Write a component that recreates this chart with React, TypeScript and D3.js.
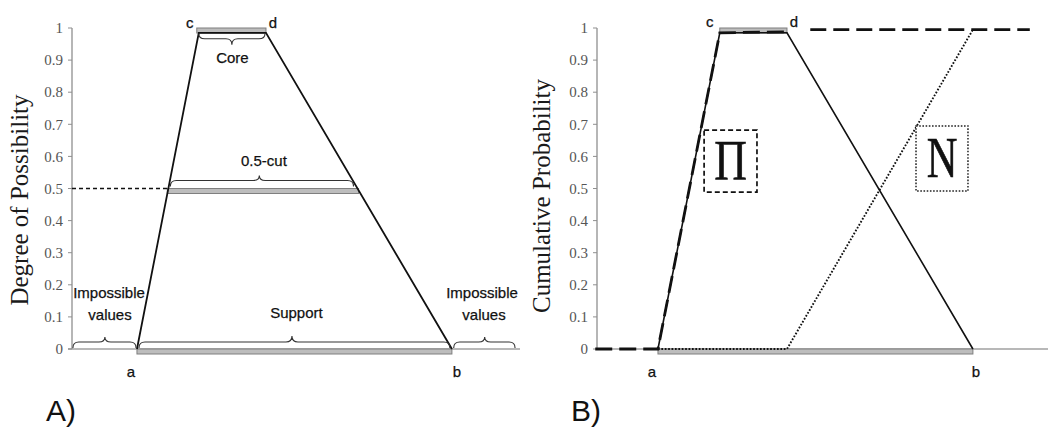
import React from "react";
import * as d3 from "d3";

// ---------- data ----------
const pointNames = ["a", "c", "d", "b"];
const pointX = [14.5, 28.3, 43.3, 84.8];
const possibilityY = [0, 0.985, 0.985, 0];
const alphaCut = 0.5;
const yTicks = [0, 0.1, 0.2, 0.3, 0.4, 0.5, 0.6, 0.7, 0.8, 0.9, 1];
const yTickLabels = ["0", "0.1", "0.2", "0.3", "0.4", "0.5", "0.6", "0.7", "0.8", "0.9", "1"];
const impossibleLeftX = [0.2, 14.3];
const impossibleRightX = [85.2, 98.9];
// panel B
const piLowerX = [0.5, 14.5];
const piUpperX = [48.5, 97.5];
const piUpperY = 0.995;
const necessityX = [14.5, 43.3, 84.8];
const necessityY = [0, 0, 0.995];
const piBoxX = [24.8, 36.6];
const piBoxY = [0.489, 0.682];
const nBoxX = [72.1, 83.7];
const nBoxY = [0.492, 0.695];

const W = 1048;
const H = 432;
const SANS = "Liberation Sans, Arial, sans-serif";
const SERIF = "Liberation Serif, Times New Roman, serif";

const yScale = d3.scaleLinear().domain([0, 1]).range([349, 28]);
const xA = d3.scaleLinear().domain([0, 100]).range([72, 520]);
const xB = d3.scaleLinear().domain([0, 100]).range([593, 1041]);

function brace(x1: number, x2: number, y0: number, dir: number, h1: number, h2: number, tipX?: number) {
  const m = tipX ?? (x1 + x2) / 2;
  const yb = y0 + dir * h1;
  const yt = yb + dir * h2;
  const r = Math.min(6, (x2 - x1) / 6);
  const p = d3.path();
  p.moveTo(x1, y0);
  p.quadraticCurveTo(x1, yb, x1 + r, yb);
  p.lineTo(m - r, yb);
  p.quadraticCurveTo(m, yb, m, yt);
  p.quadraticCurveTo(m, yb, m + r, yb);
  p.lineTo(x2 - r, yb);
  p.quadraticCurveTo(x2, yb, x2, y0);
  return p.toString();
}

const line = d3.line<[number, number]>();

function YAxis({ x0, title, titleX, titleY }: { x0: number; title: string; titleX: number; titleY: number }) {
  return (
    <g>
      <line x1={x0} x2={x0} y1={yScale(1)} y2={yScale(0)} stroke="#8f8f8f" strokeWidth={1.3} />
      {yTicks.map((t, i) => (
        <g key={i}>
          <line x1={x0 - 4} x2={x0} y1={yScale(t)} y2={yScale(t)} stroke="#8f8f8f" strokeWidth={1} />
          <text x={x0 - 9} y={yScale(t)} dy="0.35em" textAnchor="end" fontFamily={SERIF} fontSize={15} fill="#555">
            {yTickLabels[i]}
          </text>
        </g>
      ))}
      <text
        transform={`translate(${titleX},${titleY}) rotate(-90)`}
        textAnchor="middle"
        fontFamily={SERIF}
        fontSize={25}
        fill="#1a1a1a"
      >
        {title}
      </text>
    </g>
  );
}

function Bar({ x1, x2, yTop }: { x1: number; x2: number; yTop: number }) {
  return <rect x={x1} y={yTop} width={x2 - x1} height={5} fill="#bdbdbd" stroke="#7f7f7f" strokeWidth={1} />;
}

function PanelA() {
  const x = xA;
  const pts: [number, number][] = pointX.map((v, i) => [x(v), yScale(possibilityY[i])]);
  const [xa, xc, xd, xb] = pointX;
  const peak = possibilityY[1];
  const cutL = xa + (alphaCut / peak) * (xc - xa);
  const cutR = xb - (alphaCut / peak) * (xb - xd);
  const y0 = yScale(0);
  return (
    <g>
      <line x1={x(0) - 4} x2={x(100)} y1={y0} y2={y0} stroke="#a0a0a0" strokeWidth={1.3} />
      <YAxis x0={x(0)} title="Degree of Possibility" titleX={28} titleY={200} />
      {/* bars */}
      <Bar x1={x(xc) - 2} x2={x(xd)} yTop={yScale(1)} />
      <Bar x1={x(cutL) - 1} x2={x(cutR) + 1} yTop={yScale(alphaCut)} />
      <Bar x1={x(xa)} x2={x(xb)} yTop={y0} />
      {/* dashed alpha line */}
      <line x1={x(0)} x2={x(cutL)} y1={yScale(alphaCut)} y2={yScale(alphaCut)} stroke="#111" strokeWidth={1.3} strokeDasharray="4,3" />
      {/* membership */}
      <path d={line(pts) ?? ""} fill="none" stroke="#111" strokeWidth={1.8} />
      {/* braces */}
      <g fill="none" stroke="#333" strokeWidth={1.1}>
        <path d={brace(x(xc), x(xd) - 1, yScale(peak) + 1, 1, 5, 6)} />
        <path d={brace(x(cutL) + 2, x(cutR) - 4, yScale(alphaCut) - 2, -1, 6, 5, x(cutL) + 91)} />
        <path d={brace(x(xa) + 2, x(xb) - 2, y0 - 1, -1, 6, 6, x(xa) + 155)} />
        <path d={brace(x(impossibleLeftX[0]), x(impossibleLeftX[1]), y0 - 1, -1, 6, 5, x(impossibleLeftX[0]) + 32)} />
        <path d={brace(x(impossibleRightX[0]), x(impossibleRightX[1]), y0 - 1, -1, 6, 5, x(impossibleRightX[0]) + 31)} />
      </g>
      {/* labels */}
      <g fontFamily={SANS} fontSize={15} fill="#111" textAnchor="middle" stroke="#111" strokeWidth={0.25}>
        <text x={x(xc) - 9} y={yScale(1)}>{pointNames[1]}</text>
        <text x={x(xd) + 7} y={yScale(1)}>{pointNames[2]}</text>
        <text x={x(xa) - 6} y={y0 + 28}>{pointNames[0]}</text>
        <text x={x(xb) + 5} y={y0 + 28}>{pointNames[3]}</text>
        <text x={(x(xc) + x(xd)) / 2} y={63}>Core</text>
        <text x={(x(cutL) + x(cutR)) / 2 + 1} y={166}>0.5-cut</text>
        <text x={(x(xa) + x(xb)) / 2 + 2} y={318}>Support</text>
        <text x={109} y={298}>Impossible</text>
        <text x={110} y={320}>values</text>
        <text x={482} y={298}>Impossible</text>
        <text x={484} y={320}>values</text>
      </g>
      <text x={46} y={421} fontFamily={SANS} fontSize={30} fill="#111">A)</text>
    </g>
  );
}

function PanelB() {
  const x = xB;
  const [xa, xc, xd, xb] = pointX;
  const peak = possibilityY[1];
  const pts: [number, number][] = pointX.map((v, i) => [x(v), yScale(possibilityY[i])]);
  const piPts: [number, number][] = [
    [x(piLowerX[0]), yScale(0)],
    [x(piLowerX[1]), yScale(0)],
    [x(xc), yScale(peak)],
    [x(xd), yScale(peak) - 1],
  ];
  const piUpper: [number, number][] = piUpperX.map((v) => [x(v), yScale(piUpperY)]);
  const nPts: [number, number][] = necessityX.map((v, i) => [x(v), yScale(necessityY[i])]);
  const y0 = yScale(0);
  const axisX = 597;
  return (
    <g>
      <line x1={axisX} x2={W} y1={y0} y2={y0} stroke="#a0a0a0" strokeWidth={1.3} />
      <YAxis x0={axisX} title="Cumulative Probability" titleX={550} titleY={196} />
      <Bar x1={x(xc)} x2={x(xd)} yTop={yScale(1)} />
      <Bar x1={x(xa)} x2={x(xb)} yTop={y0} />
      <path d={line(pts) ?? ""} fill="none" stroke="#111" strokeWidth={1.6} />
      <path d={line(nPts) ?? ""} fill="none" stroke="#111" strokeWidth={1.9} strokeDasharray="1.7,1.7" />
      <path d={line(piPts) ?? ""} fill="none" stroke="#111" strokeWidth={2.8} strokeDasharray="17,7" />
      <path d={line(piUpper) ?? ""} fill="none" stroke="#111" strokeWidth={2.8} strokeDasharray="16,7" />
      {/* boxes */}
      <rect
        x={x(piBoxX[0])}
        y={yScale(piBoxY[1])}
        width={x(piBoxX[1]) - x(piBoxX[0])}
        height={yScale(piBoxY[0]) - yScale(piBoxY[1])}
        fill="white"
        stroke="#111"
        strokeWidth={1.7}
        strokeDasharray="5,3"
      />
      <rect
        x={x(nBoxX[0])}
        y={yScale(nBoxY[1])}
        width={x(nBoxX[1]) - x(nBoxX[0])}
        height={yScale(nBoxY[0]) - yScale(nBoxY[1])}
        fill="white"
        stroke="#222"
        strokeWidth={1.5}
        strokeDasharray="1.6,1.6"
      />
      <text
        transform={`translate(${(x(piBoxX[0]) + x(piBoxX[1])) / 2},${yScale(piBoxY[0]) - 12}) scale(0.78,1)`}
        textAnchor="middle"
        fontFamily={SERIF}
        fontSize={58}
        fill="#111"
        stroke="#111"
        strokeWidth={0.6}
      >
        Π
      </text>
      <text
        transform={`translate(${(x(nBoxX[0]) + x(nBoxX[1])) / 2},${yScale(nBoxY[0]) - 14}) scale(0.76,1)`}
        textAnchor="middle"
        fontFamily={SERIF}
        fontSize={56}
        fill="#111"
        stroke="#111"
        strokeWidth={0.6}
      >
        N
      </text>
      <g fontFamily={SANS} fontSize={15} fill="#111" textAnchor="middle" stroke="#111" strokeWidth={0.25}>
        <text x={x(xc) - 10} y={yScale(1) - 1}>{pointNames[1]}</text>
        <text x={x(xd) + 7} y={yScale(1) - 1}>{pointNames[2]}</text>
        <text x={x(xa) - 6} y={y0 + 28}>{pointNames[0]}</text>
        <text x={x(xb) + 3} y={y0 + 28}>{pointNames[3]}</text>
      </g>
      <text x={571} y={421} fontFamily={SANS} fontSize={30} fill="#111">B)</text>
    </g>
  );
}

export default function App() {
  return (
    <svg
      width={W}
      height={H}
      viewBox={`0 0 ${W} ${H}`}
      style={{ position: "absolute", left: 0, top: 0, background: "white" }}
    >
      <rect width={W} height={H} fill="white" />
      <PanelA />
      <PanelB />
    </svg>
  );
}
